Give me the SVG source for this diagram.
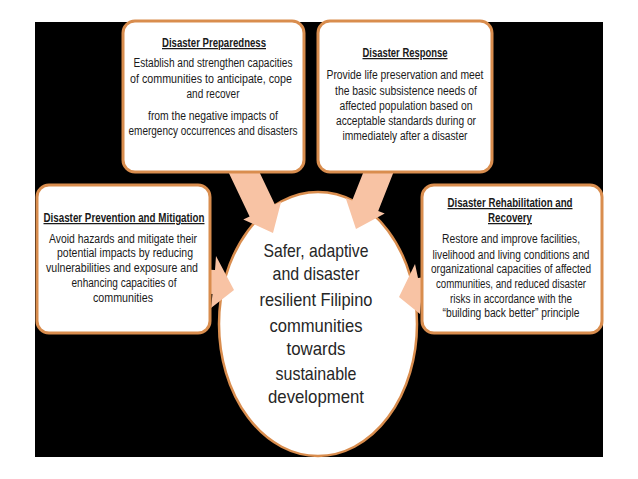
<svg xmlns="http://www.w3.org/2000/svg" width="638" height="479" viewBox="0 0 638 479">
<defs>
<style>
.box{fill:#fff;stroke:#D98D4E;stroke-width:3}
.t{font-family:"Liberation Sans",Arial,sans-serif;font-size:12.5px;fill:#1a1a1a;text-anchor:middle}
.h{font-weight:bold;text-decoration:underline}
.big{font-family:"Liberation Sans",Arial,sans-serif;font-size:19px;fill:#262626;text-anchor:middle}
.arr{fill:#F8C3A4}
</style>
<polygon id="arrowShape" points="-95,-14 -25,-14 -25,-21 0,0 -25,21 -25,14 -95,14"/>
</defs>
<rect width="638" height="479" fill="#fff"/>
<rect x="35" y="22" width="568" height="435" fill="#000"/>

<g id="center">
<ellipse cx="318" cy="324" rx="99" ry="132" fill="#fff" stroke="#D98D4E" stroke-width="2.5"/>
<text class="big" x="316" y="257" textLength="105" lengthAdjust="spacingAndGlyphs">Safer, adaptive</text>
<text class="big" x="316" y="280" textLength="87" lengthAdjust="spacingAndGlyphs">and disaster</text>
<text class="big" x="316" y="306" textLength="113" lengthAdjust="spacingAndGlyphs">resilient Filipino</text>
<text class="big" x="316" y="332" textLength="93" lengthAdjust="spacingAndGlyphs">communities</text>
<text class="big" x="316" y="355" textLength="59" lengthAdjust="spacingAndGlyphs">towards</text>
<text class="big" x="316" y="380" textLength="81" lengthAdjust="spacingAndGlyphs">sustainable</text>
<text class="big" x="316" y="403" textLength="96" lengthAdjust="spacingAndGlyphs">development</text>
</g>

<g id="connectors">
<use href="#arrowShape" class="arr" transform="translate(273,233) rotate(64.5)"/>
<use href="#arrowShape" class="arr" transform="translate(356,229) rotate(111.6)"/>
<polygon class="arr" points="180,268 215,270 216,256 234,290 211,308 212.5,294 180,292"/>
<polygon class="arr" points="460,272 418,278 415,264 399,297 420,314 421,302 460,298"/>
</g>

<g id="preparedness">
<rect class="box" x="123" y="21" width="181" height="151" rx="12"/>
<text class="t h" x="214" y="47" textLength="104" lengthAdjust="spacingAndGlyphs">Disaster Preparedness</text>
<text class="t" x="213" y="67" textLength="159" lengthAdjust="spacingAndGlyphs">Establish and strengthen capacities</text>
<text class="t" x="211" y="83" textLength="162" lengthAdjust="spacingAndGlyphs">of communities to anticipate, cope</text>
<text class="t" x="213" y="98" textLength="53" lengthAdjust="spacingAndGlyphs">and recover</text>
<text class="t" x="213" y="120" textLength="130" lengthAdjust="spacingAndGlyphs">from the negative impacts of</text>
<text class="t" x="213" y="135" textLength="169" lengthAdjust="spacingAndGlyphs">emergency occurrences and disasters</text>
</g>

<g id="response">
<rect class="box" x="318" y="21" width="174" height="151" rx="12"/>
<text class="t h" x="405" y="57" textLength="85" lengthAdjust="spacingAndGlyphs">Disaster Response</text>
<text class="t" x="405" y="79" textLength="157" lengthAdjust="spacingAndGlyphs">Provide life preservation and meet</text>
<text class="t" x="406" y="95" textLength="142" lengthAdjust="spacingAndGlyphs">the basic subsistence needs of</text>
<text class="t" x="406" y="110" textLength="133" lengthAdjust="spacingAndGlyphs">affected population based on</text>
<text class="t" x="406" y="125" textLength="140" lengthAdjust="spacingAndGlyphs">acceptable standards during or</text>
<text class="t" x="405" y="140" textLength="125" lengthAdjust="spacingAndGlyphs">immediately after a disaster</text>
</g>

<g id="prevention">
<rect class="box" x="37" y="185" width="173" height="148" rx="12"/>
<text class="t h" x="124" y="222" textLength="161" lengthAdjust="spacingAndGlyphs">Disaster Prevention and Mitigation</text>
<text class="t" x="123" y="243" textLength="148" lengthAdjust="spacingAndGlyphs">Avoid hazards and mitigate their</text>
<text class="t" x="125" y="257" textLength="136" lengthAdjust="spacingAndGlyphs">potential impacts by reducing</text>
<text class="t" x="122" y="272" textLength="152" lengthAdjust="spacingAndGlyphs">vulnerabilities and exposure  and</text>
<text class="t" x="124" y="287" textLength="105" lengthAdjust="spacingAndGlyphs">enhancing capacities of</text>
<text class="t" x="123" y="302" textLength="60" lengthAdjust="spacingAndGlyphs">communities</text>
</g>

<g id="rehabilitation">
<rect class="box" x="422" y="185" width="180" height="148" rx="12"/>
<text class="t h" x="510" y="207" textLength="125" lengthAdjust="spacingAndGlyphs">Disaster Rehabilitation and</text>
<text class="t h" x="510" y="222" textLength="44" lengthAdjust="spacingAndGlyphs">Recovery</text>
<text class="t" x="511" y="243" textLength="138" lengthAdjust="spacingAndGlyphs">Restore and improve facilities,</text>
<text class="t" x="511" y="259" textLength="157" lengthAdjust="spacingAndGlyphs">livelihood and living conditions and</text>
<text class="t" x="511" y="273" textLength="160" lengthAdjust="spacingAndGlyphs">organizational capacities of affected</text>
<text class="t" x="511" y="288" textLength="150" lengthAdjust="spacingAndGlyphs">communities, and reduced disaster</text>
<text class="t" x="511" y="303" textLength="122" lengthAdjust="spacingAndGlyphs">risks in accordance with the</text>
<text class="t" x="511" y="317" textLength="137" lengthAdjust="spacingAndGlyphs">“building back better” principle</text>
</g>
</svg>
